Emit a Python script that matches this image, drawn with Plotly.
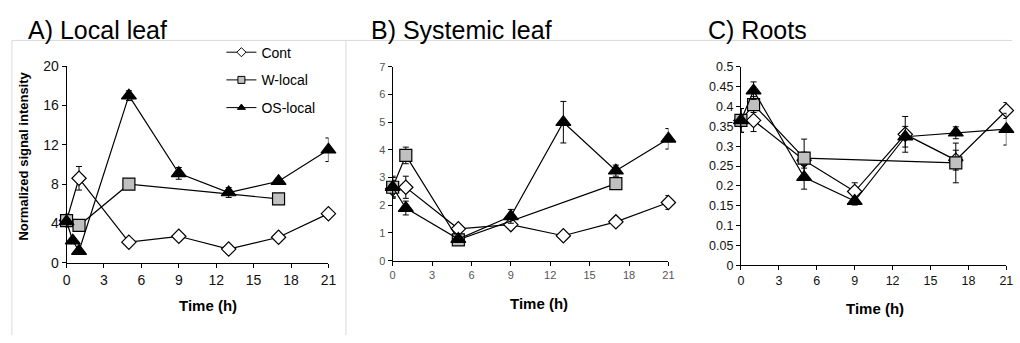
import plotly.graph_objects as go

W, H = 1020, 343

# ---- data -------------------------------------------------------------
series_names = ["Cont", "W-local", "OS-local"]

# A) Local leaf
a_cont_x = [0, 1, 5, 9, 13, 17, 21]
a_cont_y = [4.3, 8.6, 2.1, 2.7, 1.4, 2.6, 5.0]
a_cont_e = [0.3, 1.2, 0.2, 0.2, 0.15, 0.2, 0.3]
a_w_x = [0, 1, 5, 17]
a_w_y = [4.3, 3.8, 8.0, 6.5]
a_w_e = [0.3, 0.3, 0.4, 0.3]
a_os_x = [0, 0.5, 1, 5, 9, 13, 17, 21]
a_os_y = [4.2, 2.25, 1.2, 17.0, 9.1, 7.15, 8.3, 11.5]
a_os_e = [0.3, 0.3, 0.3, 0.5, 0.6, 0.5, 0.3, 1.2]

# B) Systemic leaf
b_cont_x = [0, 1, 5, 9, 13, 17, 21]
b_cont_y = [2.6, 2.65, 1.15, 1.3, 0.9, 1.4, 2.1]
b_cont_e = [0.3, 0.4, 0.1, 0.1, 0.08, 0.1, 0.25]
b_w_x = [0, 1, 5, 17]
b_w_y = [2.65, 3.8, 0.75, 2.78]
b_w_e = [0.4, 0.3, 0.1, 0.15]
b_os_x = [0, 1, 5, 9, 13, 17, 21]
b_os_y = [2.65, 1.9, 0.78, 1.6, 5.0, 3.25, 4.4]
b_os_e = [0.35, 0.25, 0.1, 0.25, 0.75, 0.2, 0.37]

# C) Roots
c_cont_x = [0, 1, 5, 9, 13, 17, 21]
c_cont_y = [0.365, 0.365, 0.265, 0.186, 0.33, 0.265, 0.39]
c_cont_e = [0.03, 0.028, 0.02, 0.022, 0.045, 0.025, 0.02]
c_w_x = [0, 1, 5, 17]
c_w_y = [0.365, 0.405, 0.27, 0.258]
c_w_e = [0.03, 0.02, 0.048, 0.05]
c_os_x = [0, 1, 5, 9, 13, 17, 21]
c_os_y = [0.365, 0.44, 0.222, 0.162, 0.324, 0.334, 0.343]
c_os_e = [0.03, 0.022, 0.03, 0.01, 0.026, 0.015, 0.04]

x_ticks = [0, 3, 6, 9, 12, 15, 18, 21]
a_y_ticks = [0, 4, 8, 12, 16, 20]
b_y_ticks = [0, 1, 2, 3, 4, 5, 6, 7]
c_y_ticks = [0, 0.05, 0.1, 0.15, 0.2, 0.25, 0.3, 0.35, 0.4, 0.45, 0.5]
c_y_labels = ["0", "0.05", "0.1", "0.15", "0.2", "0.25", "0.3", "0.35", "0.4", "0.45", "0.5"]

panel_titles = ["A) Local leaf", "B) Systemic leaf", "C) Roots"]
y_title = "Normalized signal intensity"
x_title = "Time (h)"

FONT = "Liberation Sans, Arial, sans-serif"


def px_x(p):
    return p / W


def px_y(p):
    return 1 - p / H


styles = {
    "Cont": dict(symbol="diamond", size=11, color="white"),
    "W-local": dict(symbol="square", size=12, color="#c0c0c0"),
    "OS-local": dict(symbol="triangle-up", size=13, color="black"),
}

fig = go.Figure()

panels = [
    ("x", "y", [(a_cont_x, a_cont_y, a_cont_e), (a_w_x, a_w_y, a_w_e), (a_os_x, a_os_y, a_os_e)]),
    ("x2", "y2", [(b_cont_x, b_cont_y, b_cont_e), (b_w_x, b_w_y, b_w_e), (b_os_x, b_os_y, b_os_e)]),
    ("x3", "y3", [(c_cont_x, c_cont_y, c_cont_e), (c_w_x, c_w_y, c_w_e), (c_os_x, c_os_y, c_os_e)]),
]

for xa, ya, data in panels:
    for name, (xs, ys, es) in zip(series_names, data):
        st = styles[name]
        fig.add_trace(go.Scatter(
            x=xs, y=ys, mode="lines+markers", name=name, xaxis=xa, yaxis=ya,
            showlegend=False, cliponaxis=False,
            line=dict(color="black", width=1.2),
            marker=dict(symbol=st["symbol"], size=st["size"], color=st["color"],
                        line=dict(color="black", width=1.2)),
            error_y=dict(type="data", array=es, color="black", thickness=1, width=3),
        ))

# legend entries with small symbols
for i, name in enumerate(series_names):
    st = styles[name]
    fig.add_trace(go.Scatter(
        x=[None], y=[None], mode="lines+markers", name=name, legendgroup=name,
        line=dict(color="black", width=1),
        marker=dict(symbol=st["symbol"], size=7, color=st["color"],
                    line=dict(color="black", width=1)),
    ))

axis_common = dict(showline=True, linecolor="black", linewidth=1, ticks="outside",
                   ticklen=4, tickcolor="black", showgrid=False, zeroline=False)

fig.update_layout(
    width=W, height=H, margin=dict(l=0, r=0, t=0, b=0),
    paper_bgcolor="white", plot_bgcolor="white",
    font=dict(family=FONT, color="black"),
    xaxis=dict(domain=[px_x(63.3), px_x(328.3)], range=[0, 21], tickvals=x_ticks,
               tickfont=dict(size=14, color="#111"), anchor="y", **axis_common),
    yaxis=dict(domain=[px_y(267.3), px_y(61)], range=[0, 20], tickvals=a_y_ticks,
               tickfont=dict(size=14, color="#111"), anchor="x", **axis_common),
    xaxis2=dict(domain=[px_x(393.3), px_x(672.3)], range=[0, 21], tickvals=x_ticks,
                tickfont=dict(size=11, color="#555"), anchor="y2", **axis_common),
    yaxis2=dict(domain=[px_y(265), px_y(61.7)], range=[0, 7], tickvals=b_y_ticks,
                tickfont=dict(size=11, color="#555"), anchor="x2", **axis_common),
    xaxis3=dict(domain=[px_x(745.7), px_x(1014.3)], range=[0, 21], tickvals=x_ticks,
                tickfont=dict(size=12.5, color="#111"), anchor="y3", **axis_common),
    yaxis3=dict(domain=[px_y(270), px_y(61.7)], range=[0, 0.5], tickvals=c_y_ticks,
                ticktext=c_y_labels, tickfont=dict(size=12.5, color="#111"), anchor="x3",
                **axis_common),
    legend=dict(x=px_x(220), y=px_y(30), xanchor="left", yanchor="top",
                bgcolor="rgba(0,0,0,0)", font=dict(size=14, family=FONT),
                tracegroupgap=6.5, itemwidth=30),
)

# faint frame lines around the panels
frame = "#d9d9d9"
fig.add_shape(type="line", xref="paper", yref="paper", x0=px_x(8), x1=1,
              y0=px_y(34), y1=px_y(34), line=dict(color=frame, width=1))
for xp in (8, 346):
    fig.add_shape(type="line", xref="paper", yref="paper", x0=px_x(xp), x1=px_x(xp),
                  y0=px_y(34), y1=0, line=dict(color=frame, width=1))

# panel titles
for title, xl in zip(panel_titles, (22, 369, 710)):
    fig.add_annotation(text=title, xref="paper", yref="paper", x=px_x(xl), y=px_y(23),
                       xanchor="left", yanchor="middle", showarrow=False,
                       font=dict(size=25, family=FONT, color="black"))

# axis titles
fig.add_annotation(text="<b>%s</b>" % y_title, xref="paper", yref="paper",
                   x=px_x(20), y=px_y(155), textangle=-90, showarrow=False,
                   xanchor="center", yanchor="middle", font=dict(size=13, family=FONT))
for xc, yc in ((206.7, 311.7), (541.7, 310), (881.7, 315)):
    fig.add_annotation(text="<b>%s</b>" % x_title, xref="paper", yref="paper",
                       x=px_x(xc), y=px_y(yc), showarrow=False,
                       xanchor="center", yanchor="middle", font=dict(size=15, family=FONT))

fig.write_html("out.html")
